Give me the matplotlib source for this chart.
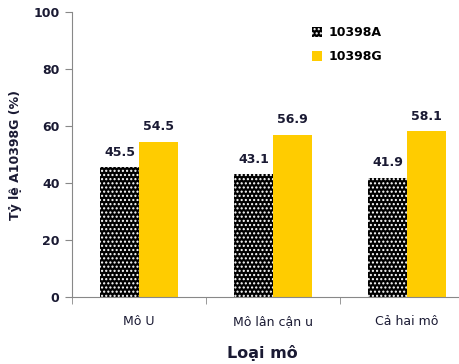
import numpy as np
import matplotlib
matplotlib.use('Agg')
import matplotlib.pyplot as plt

categories = ['Mô U', 'Mô lân cận u', 'Cả hai mô']
vals_a = [45.5, 43.1, 41.9]
vals_g = [54.5, 56.9, 58.1]
yticks = [0, 20, 40, 60, 80, 100]

plt.rcParams['font.family'] = ['DejaVu Sans']
plt.rcParams['hatch.linewidth'] = 1.0
txt = '#1a1a33'

fig = plt.figure(figsize=(4.6, 3.64), dpi=100)
ax = fig.add_axes([72 / 460, 1 - 297 / 364, 402 / 460, 285 / 364])

x = np.arange(len(categories))
w = 0.29
ax.bar(x - w / 2, vals_a, w, facecolor='black', edgecolor='white', hatch='....',
       linewidth=0, label='10398A')
ax.bar(x + w / 2, vals_g, w, color='#ffcc00', linewidth=0, label='10398G')

# nhãn giá trị trên cột
for xi, v in zip(x - w / 2, vals_a):
    ax.text(xi, v + 3, f'{v}', ha='center', va='bottom', fontsize=9,
            fontweight='bold', color=txt)
for xi, v in zip(x + w / 2, vals_g):
    ax.text(xi, v + 3, f'{v}', ha='center', va='bottom', fontsize=9,
            fontweight='bold', color=txt)

ax.set_xlim(-0.5, 2.5)
ax.set_ylim(0, 100)
ax.set_yticks(yticks)
ax.set_yticklabels([str(t) for t in yticks], fontsize=9, fontweight='bold', color=txt)
ax.set_xticks(x)
ax.set_xticklabels(categories, fontsize=9, color=txt)
ax.set_xticks([-0.5, 0.5, 1.5, 2.5], minor=True)
ax.tick_params(axis='x', which='major', length=0, pad=13)
ax.tick_params(axis='x', which='minor', length=5, color='#888888')
ax.tick_params(axis='y', length=5, color='#888888', pad=4)

for s in ['top', 'right']:
    ax.spines[s].set_visible(False)
for s in ['left', 'bottom']:
    ax.spines[s].set_color('#888888')

ax.set_ylabel('Tỷ lệ A10398G (%)', fontsize=9, fontweight='bold', color=txt, labelpad=8)
fig.text(0.57, 0.03, 'Loại mô', ha='center', va='center', fontsize=11.5,
         fontweight='bold', color=txt)

ax.legend(loc='upper left', bbox_to_anchor=(0.57, 0.99), frameon=False,
          prop={'weight': 'bold', 'size': 9},
          handlelength=0.8, handleheight=0.8, labelspacing=0.9, handletextpad=0.5)

plt.savefig('out.png', dpi=100)
plt.close()
